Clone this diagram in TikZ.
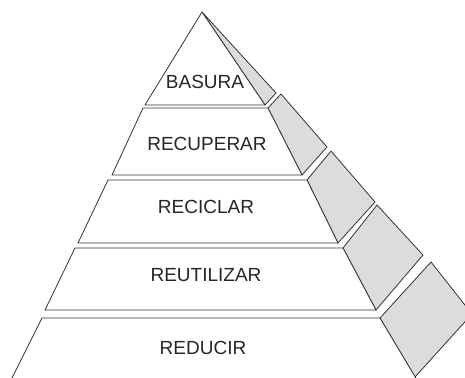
\documentclass[tikz,border=0pt]{standalone}
\usepackage{fontspec}
\setmainfont{Liberation Sans}
\definecolor{edgegray}{HTML}{333333}
\definecolor{sidegray}{HTML}{DCDCDC}

\begin{document}
\begin{tikzpicture}[x=1pt, y=-1pt,
  face/.style={draw=edgegray, line width=0.8pt, line join=round, fill=white},
  side/.style={face, fill=sidegray},
  level/.style={font=\fontsize{19}{22}\selectfont, text=black!85, inner sep=0pt}]
  \useasboundingbox (0,0) rectangle (465,377);
  \clip (0,0) rectangle (465,377);

  % Basura - top
  \draw[side] (202,12) -- (276,93) -- (265,105) -- cycle;
  \draw[face] (202,12) -- (265,105) -- (145,105) -- cycle;
  \node[level] (basura) at (205,82) {BASURA};

  % Recuperar
  \draw[side] (268,108) -- (281,94) -- (327,147) -- (302,175) -- cycle;
  \draw[face] (143,108) -- (268,108) -- (302,175) -- (112,175) -- cycle;
  \node[level] (recuperar) at (207,144) {RECUPERAR};

  % Reciclar
  \draw[side] (307,180) -- (331,151) -- (375,202) -- (338,243) -- cycle;
  \draw[face] (108,180) -- (307,180) -- (338,243) -- (78,243) -- cycle;
  \node[level] (reciclar) at (206,207) {RECICLAR};

  % Reutilizar
  \draw[side] (343,248) -- (377,205) -- (423,255) -- (376,310) -- cycle;
  \draw[face] (75,248) -- (343,248) -- (376,310) -- (45,310) -- cycle;
  \node[level] (reutilizar) at (206,275) {REUTILIZAR};

  % Reducir - base, cut by the frame
  \draw[side] (380,318) -- (431,262) -- (472,314) -- (415,377) -- cycle;
  \fill[white] (11,380) -- (42,318) -- (380,318) -- (417,380) -- cycle;
  \draw[edgegray, line width=0.8pt, line join=round]
    (11,380) -- (42,318) -- (380,318) -- (417,380);
  \node[level] (reducir) at (203,348) {REDUCIR};
\end{tikzpicture}
\end{document}
